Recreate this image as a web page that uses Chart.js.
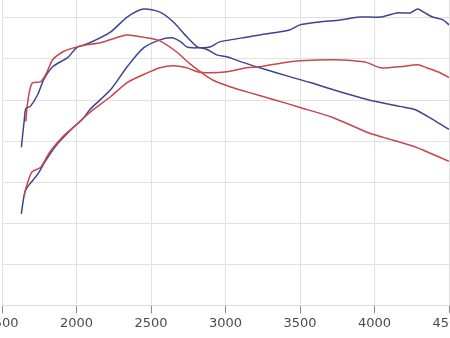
<!DOCTYPE html>
<html>
<head>
  <meta charset="UTF-8">
  <title>Dyno</title>
  <script src="https://cdn.jsdelivr.net/npm/chart.js"></script>
  <style>
    html, body { margin: 0; padding: 0; background: #fff; overflow: hidden; }
    .wrap { position: absolute; left: -28px; top: 0; width: 507px; height: 338px; }
  </style>
</head>
<body>
  <div class="wrap">
    <canvas id="grafico"></canvas>
  </div>

  <script>
    // x ticks (rpm)
    const xTicks = [1500, 2000, 2500, 3000, 3500, 4000, 4500];

    // blue run, upper curve
    const blueUpperRpm = [1630, 1650, 1660, 1690, 1740, 1780, 1840, 1940, 2000, 2090, 2230, 2340, 2450, 2560, 2650, 2740, 2810, 2850, 2900, 2960, 3160, 3230, 3430, 3500, 3630, 3770, 3900, 4040, 4150, 4240, 4290, 4330, 4390, 4460, 4500];
    const blueUpper = [77.0, 90.6, 95.9, 96.9, 102.7, 109.9, 116.2, 120.6, 125.4, 127.9, 133.2, 140.4, 144.3, 142.8, 138.0, 130.8, 125.9, 125.4, 125.9, 128.3, 130.8, 131.7, 134.1, 136.6, 138.0, 139.0, 140.4, 140.4, 142.4, 142.4, 144.3, 142.8, 140.4, 139.0, 136.6];

    // blue run, lower curve
    const blueLowerRpm = [1630, 1650, 1670, 1740, 1790, 1870, 1980, 2040, 2090, 2230, 2340, 2450, 2560, 2640, 2700, 2740, 2780, 2830, 2880, 2940, 3010, 3100, 3230, 3430, 3570, 3720, 3950, 4170, 4270, 4390, 4500];
    const blueLower = [44.6, 54.2, 57.6, 63.9, 70.2, 78.5, 86.7, 90.6, 95.4, 105.1, 116.2, 125.4, 129.3, 130.3, 128.3, 125.9, 125.4, 125.4, 124.5, 122.0, 121.1, 118.7, 115.7, 111.4, 108.5, 105.1, 100.3, 96.9, 95.4, 90.6, 85.7];

    // red run, upper curve
    const redUpperRpm = [1660, 1670, 1700, 1760, 1800, 1840, 1910, 1980, 2070, 2160, 2290, 2340, 2470, 2560, 2670, 2760, 2830, 2920, 3030, 3160, 3320, 3500, 3720, 3950, 4060, 4260, 4390, 4500];
    const redUpper = [89.6, 97.8, 108.0, 109.0, 113.3, 119.6, 123.5, 125.4, 126.9, 127.9, 130.8, 131.7, 130.3, 128.8, 123.5, 117.7, 113.8, 109.5, 106.5, 103.6, 100.3, 96.4, 91.5, 84.3, 81.8, 77.5, 73.6, 70.2];

    // red run, lower curve
    const redLowerRpm = [1650, 1655, 1700, 1760, 1820, 1910, 2000, 2090, 2230, 2340, 2450, 2560, 2650, 2740, 2810, 2900, 3010, 3140, 3230, 3390, 3500, 3720, 3860, 3950, 4040, 4170, 4290, 4350, 4440, 4500];
    const redLower = [52.8, 55.7, 64.9, 67.3, 74.6, 82.3, 88.1, 94.0, 101.7, 108.5, 112.4, 115.7, 116.7, 115.7, 113.8, 113.3, 113.8, 115.7, 116.2, 118.2, 119.1, 119.6, 119.1, 118.2, 115.7, 116.2, 117.2, 115.7, 113.3, 110.9];

    const azul = '#3d4592';
    const vermelho = '#c8464c';

    function pontos(xs, ys) {
      return xs.map((x, i) => ({ x: x, y: ys[i] }));
    }

    function serie(xs, ys, cor) {
      return {
        data: pontos(xs, ys),
        borderColor: cor,
        borderWidth: 1.5,
        pointRadius: 0,
        tension: 0.25,
        fill: false
      };
    }

    new Chart(document.getElementById('grafico'), {
      type: 'line',
      data: {
        datasets: [
          serie(redLowerRpm, redLower, vermelho),
          serie(redUpperRpm, redUpper, vermelho),
          serie(blueLowerRpm, blueLower, azul),
          serie(blueUpperRpm, blueUpper, azul)
        ]
      },
      options: {
        responsive: true,
        maintainAspectRatio: false,
        animation: false,
        layout: { padding: { left: 30, right: 30, top: 0, bottom: 5 } },
        plugins: { legend: { display: false }, tooltip: { enabled: false } },
        scales: {
          x: {
            type: 'linear',
            min: xTicks[0],
            max: xTicks[xTicks.length - 1],
            afterBuildTicks: axis => { axis.ticks = xTicks.map(v => ({ value: v })); },
            grid: { color: '#e2e2e2', tickColor: '#8a8a8a', tickLength: 8 },
            border: { color: '#dcdcdc' },
            ticks: {
              padding: 2,
              color: '#4a4a4a',
              font: { family: 'DejaVu Sans', size: 13 },
              callback: v => String(v),
              maxRotation: 0
            }
          },
          y: {
            min: 0,
            max: 148.7,
            grid: { color: '#e2e2e2', drawTicks: false },
            border: { display: false },
            ticks: { display: false, stepSize: 20, includeBounds: false }
          }
        }
      }
    });
  </script>
</body>
</html>
